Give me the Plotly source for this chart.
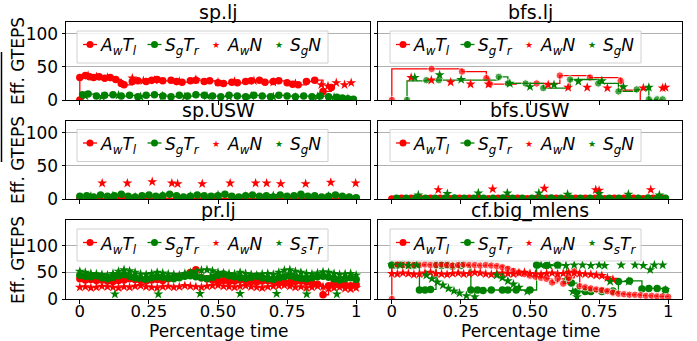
import plotly.graph_objects as go
from plotly.subplots import make_subplots

# ---------------- data ----------------
panel_titles = ["sp.lj", "bfs.lj", "sp.USW", "bfs.USW", "pr.lj", "cf.big_mlens"]
x_ticks = [0, 0.25, 0.5, 0.75, 1]
x_tick_text = ["0", "0.25", "0.50", "0.75", "1"]
y_ticks = [0, 50, 100]

# sp.lj
splj_awtl_x = [0.0, 0.0, 0.02, 0.035, 0.05, 0.07, 0.09, 0.11, 0.13, 0.15, 0.16, 0.19, 0.21, 0.24, 0.26, 0.28, 0.3, 0.33, 0.35, 0.37,
               0.4, 0.42, 0.45, 0.47, 0.5, 0.52, 0.55, 0.57, 0.6, 0.62, 0.65, 0.67, 0.7, 0.72, 0.75, 0.77, 0.79, 0.82, 0.85, 0.88, 0.91]
splj_awtl_y = [0, 34, 37, 35, 34, 35, 33, 34, 31, 25, 23, 28, 29, 28, 30, 31, 29, 30, 28, 27,
               29, 30, 28, 29, 26, 25, 27, 26, 28, 29, 30, 27, 28, 29, 26, 24, 23, 28, 30, 13, 19]
splj_sgtr_x = [0.01, 0.03, 0.06, 0.09, 0.12, 0.15, 0.18, 0.21, 0.24, 0.27, 0.3, 0.33, 0.36, 0.39, 0.42, 0.45, 0.48, 0.51,
               0.54, 0.57, 0.6, 0.63, 0.66, 0.69, 0.72, 0.75, 0.78, 0.81, 0.84, 0.87, 0.9, 0.93, 0.95, 0.97, 0.99]
splj_sgtr_y = [8, 9, 6, 7, 8, 6, 7, 5, 7, 8, 6, 5, 7, 6, 8, 7, 6, 5, 7, 6, 5, 7, 6, 5, 7, 6, 5, 6, 5, 6, 5, 4, 3, 2, 1]
splj_awn_x = [0.03, 0.06, 0.1, 0.19, 0.23, 0.27, 0.36, 0.42, 0.5, 0.56, 0.63, 0.7, 0.78, 0.874, 0.898, 0.928, 0.958, 0.982]
splj_awn_y = [37, 35, 34, 33, 29, 30, 28, 31, 27, 28, 29, 27, 25, 23, 21, 26, 23, 26]
splj_sgn_x = [0.02, 0.08, 0.14, 0.22, 0.3, 0.38, 0.46, 0.54, 0.62, 0.7, 0.78, 0.86, 0.92, 0.97]
splj_sgn_y = [6, 5, 7, 5, 6, 5, 6, 5, 6, 5, 4, 5, 4, 2]

# bfs.lj
bfslj_awtl_x = [0.0, 0.0, 0.144, 0.254, 0.342, 0.354, 0.45, 0.524, 0.608, 0.717, 0.828, 0.83, 0.899]
bfslj_awtl_y = [0, 47, 47, 43, 33, 24, 25, 25, 37, 34, 29, 15, 0]
bfslj_sgtr_x = [0.055, 0.055, 0.125, 0.17, 0.387, 0.42, 0.484, 0.548, 0.645, 0.747, 0.82, 0.886, 0.93, 0.96, 0.98]
bfslj_sgtr_y = [0, 29, 30, 30, 35, 25, 25, 18, 31, 25, 13, 16, 1, 1, 1]
bfslj_awn_x = [0.07, 0.143, 0.213, 0.285, 0.35, 0.566, 0.638, 0.707, 0.78, 0.91, 0.98, 0.99]
bfslj_awn_y = [34, 30, 27, 24, 24, 23, 19, 19, 18, 18, 18, 19]
bfslj_sgn_x = [0.083, 0.173, 0.251, 0.427, 0.5, 0.587, 0.675, 0.76, 0.838, 0.93]
bfslj_sgn_y = [34, 38, 31, 25, 20, 23, 28, 29, 20, 19]

# sp.USW
spusw_awtl_x = [0.0, 0.05, 0.1, 0.15, 0.2, 0.25, 0.3, 0.35, 0.4, 0.45, 0.5, 0.55, 0.6, 0.65, 0.7, 0.75, 0.8, 0.85, 0.9, 0.95, 1.0]
spusw_awtl_y = [0, 1, 1, 1, 1, 1, 1, 1, 1, 1, 1, 1, 1, 1, 1, 1, 1, 1, 1, 1, 1]
spusw_sgtr_x = [0.0, 0.025, 0.05, 0.075, 0.1, 0.125, 0.15, 0.175, 0.2, 0.225, 0.25, 0.275, 0.3, 0.325, 0.35, 0.375, 0.4,
                0.425, 0.45, 0.475, 0.5, 0.525, 0.55, 0.575, 0.6, 0.625, 0.65, 0.675, 0.7, 0.725, 0.75, 0.775, 0.8,
                0.825, 0.85, 0.875, 0.9, 0.925, 0.95, 0.975, 1.0]
spusw_sgtr_y = [4, 5, 3, 6, 4, 5, 7, 4, 3, 5, 6, 4, 5, 7, 5, 3, 4, 6, 5, 4, 5, 7, 4, 3, 5, 6, 4, 5, 3, 6, 4, 5, 7, 4, 5, 3, 4, 6, 4, 3, 2]
spusw_awn_x = [0.081, 0.172, 0.262, 0.333, 0.354, 0.443, 0.544, 0.636, 0.676, 0.727, 0.817, 0.908, 0.998]
spusw_awn_y = [24, 24, 26, 24, 23, 23, 24, 24, 24, 23, 23, 25, 24]
spusw_sgn_x = [0.04, 0.12, 0.2, 0.3, 0.4, 0.5, 0.6, 0.7, 0.8, 0.9]
spusw_sgn_y = [4, 5, 3, 5, 4, 6, 4, 5, 3, 4]

# bfs.USW
bfsusw_awtl_x = [0.0, 0.035, 0.07, 0.105, 0.14, 0.175, 0.21, 0.245, 0.28, 0.315, 0.35, 0.385, 0.42, 0.455, 0.49,
                 0.525, 0.56, 0.595, 0.63, 0.665, 0.7, 0.735, 0.77, 0.805, 0.84, 0.875, 0.91, 0.945, 0.98]
bfsusw_awtl_y = [0, 1, 1, 0.5, 1, 1, 0.5, 1, 1, 1, 0.5, 1, 1, 1, 0.5, 1, 1, 1, 0.5, 1, 1, 1, 0.5, 1, 1, 1, 0.5, 1, 1]
bfsusw_sgtr_x = [0.017, 0.052, 0.087, 0.122, 0.157, 0.192, 0.227, 0.262, 0.297, 0.332, 0.367, 0.402, 0.437, 0.472,
                 0.507, 0.542, 0.577, 0.612, 0.647, 0.682, 0.717, 0.752, 0.787, 0.822, 0.857, 0.892, 0.927, 0.962, 0.99]
bfsusw_sgtr_y = [1, 1, 1.5, 1, 1, 1, 1.5, 1, 1, 1, 1, 1.5, 1, 1, 1, 1, 1.5, 1, 1, 1, 1, 1.5, 1, 1, 1, 1, 1.5, 1, 1]
bfsusw_awn_x = [0.168, 0.365, 0.552, 0.738, 0.75, 0.937]
bfsusw_awn_y = [14, 15, 16, 14, 13, 14]
bfsusw_sgn_x = [0.096, 0.201, 0.313, 0.418, 0.532, 0.636, 0.75, 0.856, 0.968]
bfsusw_sgn_y = [6, 8, 9, 9, 9, 7, 8, 7, 6]

# pr.lj
prlj_x = [0.0, 0.02, 0.04, 0.06, 0.08, 0.1, 0.12, 0.14, 0.16, 0.18, 0.2, 0.22, 0.24, 0.26, 0.28, 0.3, 0.32, 0.34, 0.36,
          0.38, 0.4, 0.42, 0.44, 0.46, 0.48, 0.5, 0.52, 0.54, 0.56, 0.58, 0.6, 0.62, 0.64, 0.66, 0.68, 0.7, 0.72, 0.74,
          0.76, 0.78, 0.8, 0.82, 0.84, 0.86, 0.88, 0.9, 0.92, 0.94, 0.96, 0.98, 1.0]
prlj_awtl_y = [38, 36, 37, 35, 36, 34, 33, 35, 36, 38, 37, 35, 34, 36, 37, 35, 38, 40, 42, 45, 50, 55, 40, 38, 36, 34,
               35, 33, 34, 36, 35, 33, 32, 34, 35, 33, 32, 30, 31, 33, 34, 32, 30, 28, 8, 25, 30, 28, 26, 25, 27]
prlj_sgtr_y = [45, 43, 42, 44, 40, 38, 41, 44, 46, 43, 40, 38, 37, 40, 42, 41, 39, 38, 40, 43, 44, 42, 40, 38, 41, 45,
               47, 44, 42, 40, 39, 41, 43, 40, 38, 37, 40, 42, 44, 41, 39, 38, 40, 42, 43, 41, 38, 36, 38, 40, 37]
prlj_awn_y = [22, 23, 21, 22, 24, 23, 22, 21, 23, 22, 24, 25, 23, 22, 21, 23, 24, 22, 23, 25, 24, 23, 22, 24, 25, 26,
              24, 23, 22, 24, 25, 23, 22, 21, 23, 24, 25, 26, 24, 22, 23, 21, 22, 24, 23, 20, 21, 22, 20, 19, 21]
prlj_sstr_y = [52, 50, 48, 47, 46, 45, 48, 52, 55, 53, 50, 47, 46, 48, 50, 49, 47, 46, 45, 48, 50, 52, 54, 55, 53, 50,
               49, 48, 47, 50, 48, 46, 45, 47, 48, 46, 50, 54, 55, 52, 50, 48, 47, 49, 51, 50, 48, 46, 47, 48, 45]
prlj_sstr_low_x = [0.127, 0.284, 0.435, 0.58, 0.712, 0.821, 0.93]
prlj_sstr_low_y = [9, 9, 10, 10, 10, 9, 9]

# cf.big_mlens
cf_awtl_x = [0.0, 0.0, 0.02, 0.04, 0.06, 0.08, 0.1, 0.12, 0.14, 0.16, 0.18, 0.2, 0.22, 0.24, 0.26, 0.28, 0.3, 0.32, 0.34,
             0.36, 0.38, 0.4, 0.42, 0.44, 0.46, 0.48, 0.5, 0.52, 0.54, 0.56, 0.58, 0.6, 0.62, 0.64, 0.66, 0.68, 0.7, 0.72,
             0.74, 0.76, 0.78, 0.8, 0.82, 0.84, 0.86, 0.88, 0.9, 0.92, 0.94, 0.96, 0.98, 1.0]
cf_awtl_y = [0, 64, 65, 64, 65, 64, 64, 65, 64, 64, 65, 64, 63, 64, 65, 64, 64, 63, 64, 63, 62, 60, 57, 53, 50, 47, 44,
             42, 40, 38, 31, 38, 29, 40, 52, 24, 22, 20, 18, 17, 15, 12, 10, 9, 8, 8, 7, 6, 6, 5, 5, 4]
cf_sgtr_x = [0.0, 0.02, 0.04, 0.06, 0.08, 0.1, 0.12, 0.14, 0.16, 0.18, 0.2, 0.22, 0.25, 0.286, 0.31, 0.33, 0.36, 0.4,
             0.42, 0.45, 0.5, 0.524, 0.56, 0.6, 0.633, 0.65, 0.67, 0.7, 0.72, 0.76, 0.8, 0.82, 0.86, 0.905, 0.93, 0.96, 0.99]
cf_sgtr_y = [64, 64, 65, 64, 63, 17, 17, 18, 64, 63, 64, 62, 63, 17, 17, 16, 17, 17, 17, 17, 17, 64, 63, 64, 35, 30,
             14, 14, 14, 14, 15, 33, 34, 19, 20, 20, 17]
cf_awn_x = [0.0, 0.02, 0.04, 0.06, 0.08, 0.1, 0.12, 0.14, 0.16, 0.18, 0.2, 0.22, 0.24, 0.26, 0.28, 0.3, 0.32, 0.34, 0.36,
            0.38, 0.4, 0.42, 0.44, 0.46, 0.48, 0.5, 0.52, 0.54, 0.56, 0.58, 0.6, 0.62, 0.64, 0.66, 0.68, 0.7, 0.72, 0.74,
            0.76, 0.78, 0.8]
cf_awn_y = [48, 47, 49, 48, 46, 47, 49, 50, 48, 47, 46, 48, 49, 47, 48, 50, 49, 47, 46, 48, 49, 48, 47, 49, 50, 48, 47,
            46, 48, 49, 47, 48, 50, 49, 48, 47, 46, 45, 44, 40, 37]
cf_sstr_x = [0.0, 0.03, 0.06, 0.09, 0.125, 0.145, 0.165, 0.185, 0.205, 0.225, 0.245, 0.27, 0.3, 0.38, 0.4, 0.42, 0.44,
             0.46, 0.49, 0.54, 0.57, 0.6, 0.63, 0.66, 0.655, 0.67, 0.69, 0.72, 0.75, 0.77, 0.79, 0.83, 0.857, 0.88, 0.91,
             0.935, 0.95, 0.98, 0.99]
cf_sstr_y = [64, 64, 63, 64, 45, 38, 32, 26, 20, 15, 11, 6, 4, 45, 40, 34, 28, 22, 14, 64, 63, 64, 63, 64, 14, 4, 64,
             63, 64, 63, 33, 64, 33, 64, 63, 55, 64, 64, 17]

# ---------------- styling ----------------
RED = "#ff0000"
GREEN = "#008000"
FONT = "DejaVu Sans"
N_AWTL = "<i>A<sub>w</sub>T<sub>l</sub></i>"
N_SGTR = "<i>S<sub>g</sub>T<sub>r</sub></i>"
N_AWN = "<i>A<sub>w</sub>N</i>"
N_SGN = "<i>S<sub>g</sub>N</i>"
N_SSTR = "<i>S<sub>s</sub>T<sub>r</sub></i>"
CIRCLE_SIZE = 7.5
STAR_SIZE = 7.5

fig = make_subplots(rows=3, cols=2)


def line_trace(x, y, color, name, sizes=None):
    return go.Scatter(x=x, y=y, mode="lines+markers", name=name, showlegend=False,
                      line=dict(color=color, width=1.3, shape="hv"),
                      marker=dict(symbol="circle", size=sizes if sizes is not None else CIRCLE_SIZE, color=color))


def star_trace(x, y, color, name):
    return go.Scatter(x=x, y=y, mode="markers", name=name, showlegend=False,
                      marker=dict(symbol="star", size=STAR_SIZE, color=color, line=dict(width=0)))


S = CIRCLE_SIZE
panels = [
    (1, 1, [(splj_awtl_x, splj_awtl_y, "L", RED, N_AWTL, None), (splj_sgtr_x, splj_sgtr_y, "L", GREEN, N_SGTR, None),
            (splj_awn_x, splj_awn_y, "S", RED, N_AWN, None), (splj_sgn_x, splj_sgn_y, "S", GREEN, N_SGN, None)],
     [("L", RED, N_AWTL), ("L", GREEN, N_SGTR), ("S", RED, N_AWN), ("S", GREEN, N_SGN)]),
    (1, 2, [(bfslj_awtl_x, bfslj_awtl_y, "L", RED, N_AWTL, [S, 0, S, S, S, S, 0, S, S, S, S, 0, 0]),
            (bfslj_sgtr_x, bfslj_sgtr_y, "L", GREEN, N_SGTR, [S, 0] + [S] * 13),
            (bfslj_awn_x, bfslj_awn_y, "S", RED, N_AWN, None), (bfslj_sgn_x, bfslj_sgn_y, "S", GREEN, N_SGN, None)],
     [("L", RED, N_AWTL), ("L", GREEN, N_SGTR), ("S", RED, N_AWN), ("S", GREEN, N_SGN)]),
    (2, 1, [(spusw_awtl_x, spusw_awtl_y, "L", RED, N_AWTL, None), (spusw_sgtr_x, spusw_sgtr_y, "L", GREEN, N_SGTR, None),
            (spusw_awn_x, spusw_awn_y, "S", RED, N_AWN, None), (spusw_sgn_x, spusw_sgn_y, "S", GREEN, N_SGN, None)],
     [("L", RED, N_AWTL), ("L", GREEN, N_SGTR), ("S", RED, N_AWN), ("S", GREEN, N_SGN)]),
    (2, 2, [(bfsusw_awtl_x, bfsusw_awtl_y, "L", RED, N_AWTL, None), (bfsusw_sgtr_x, bfsusw_sgtr_y, "L", GREEN, N_SGTR, None),
            (bfsusw_awn_x, bfsusw_awn_y, "S", RED, N_AWN, None), (bfsusw_sgn_x, bfsusw_sgn_y, "S", GREEN, N_SGN, None)],
     [("L", RED, N_AWTL), ("L", GREEN, N_SGTR), ("S", RED, N_AWN), ("S", GREEN, N_SGN)]),
    (3, 1, [(prlj_x, prlj_awtl_y, "L", RED, N_AWTL, None), (prlj_x, prlj_sgtr_y, "L", GREEN, N_SGTR, None),
            (prlj_x, prlj_awn_y, "S", RED, N_AWN, None),
            (prlj_x + prlj_sstr_low_x, prlj_sstr_y + prlj_sstr_low_y, "S", GREEN, N_SSTR, None)],
     [("L", RED, N_AWTL), ("L", GREEN, N_SGTR), ("S", RED, N_AWN), ("S", GREEN, N_SSTR)]),
    (3, 2, [(cf_sgtr_x, cf_sgtr_y, "L", GREEN, N_SGTR, None),
            (cf_awtl_x, cf_awtl_y, "L", RED, N_AWTL, [S, 0] + [S] * 50),
            (cf_awn_x, cf_awn_y, "S", RED, N_AWN, None), (cf_sstr_x, cf_sstr_y, "S", GREEN, N_SSTR, None)],
     [("L", RED, N_AWTL), ("L", GREEN, N_SGTR), ("S", RED, N_AWN), ("S", GREEN, N_SSTR)]),
]

for (r, c, series, _) in panels:
    for (x, y, kind, color, name, sizes) in series:
        tr = line_trace(x, y, color, name, sizes) if kind == "L" else star_trace(x, y, color, name)
        fig.add_trace(tr, row=r, col=c)

# ---------------- layout ----------------
W, H = 697, 341
ML, MR, MT, MB = 66, 15, 22, 42
PW, PH = W - ML - MR, H - MT - MB


def px_x(p):
    return (p - ML) / PW


def px_y(p):
    return (H - MB - p) / PH


col_dom = [[px_x(66), px_x(370)], [px_x(378), px_x(682)]]
row_dom = [[px_y(100), px_y(22)], [px_y(199), px_y(121)], [px_y(299), px_y(220)]]
row_yrange = [[0, 118], [0, 118], [0, 149]]

axis_common = dict(showline=True, linecolor="black", linewidth=1, mirror=True, ticks="outside", ticklen=3.5,
                   tickcolor="black", zeroline=False)

for r in range(3):
    for c in range(2):
        idx = r * 2 + c + 1
        xa = "xaxis" if idx == 1 else f"xaxis{idx}"
        ya = "yaxis" if idx == 1 else f"yaxis{idx}"
        fig.layout[xa].update(domain=col_dom[c], range=[-0.05, 1.05], tickvals=x_ticks, ticktext=x_tick_text,
                              showticklabels=(r == 2), showgrid=False, ticklabelstandoff=-6,
                              tickfont=dict(family=FONT, size=16.5, color="black"), **axis_common)
        fig.layout[ya].update(domain=row_dom[r], range=row_yrange[r], tickvals=y_ticks,
                              showticklabels=(c == 0), showgrid=True, gridcolor="#b0b0b0", gridwidth=0.8,
                              tickfont=dict(family=FONT, size=17, color="black"), **axis_common)

annotations = []
shapes = []

# legends drawn as boxed entries inside each panel
legend_tops = [31, 31, 129.5, 129.5, 229, 229]
legend_lefts = [77, 390, 77, 390, 77, 390]
LEG_W, LEG_H = 251, 32
sym_centers = [13, 77.5, 139, 202]
text_starts = [21, 86, 148, 211]
for i, (_, _, _, entries) in enumerate(panels):
    L, T = legend_lefts[i], legend_tops[i]
    shapes.append(dict(type="rect", xref="paper", yref="paper", x0=px_x(L), x1=px_x(L + LEG_W),
                       y0=px_y(T + LEG_H), y1=px_y(T), fillcolor="rgba(255,255,255,0.8)",
                       line=dict(color="#d0d0d0", width=1), layer="above"))
    for j, (kind, color, label) in enumerate(entries):
        cx = L + sym_centers[j]
        sy = T + 13.5
        if kind == "L":
            shapes.append(dict(type="line", xref="paper", yref="paper", x0=px_x(cx - 7), x1=px_x(cx + 7),
                               y0=px_y(sy), y1=px_y(sy), line=dict(color=color, width=1.3), layer="above"))
            shapes.append(dict(type="circle", xref="paper", yref="paper", x0=px_x(cx - 3.5), x1=px_x(cx + 3.5),
                               y0=px_y(sy + 3.5), y1=px_y(sy - 3.5), fillcolor=color, line=dict(width=0),
                               layer="above"))
        else:
            annotations.append(dict(text="★", x=px_x(cx), y=px_y(sy + 0.5), xref="paper", yref="paper",
                                    showarrow=False, xanchor="center", yanchor="middle",
                                    font=dict(family=FONT, size=9, color=color)))
        annotations.append(dict(text=label, x=px_x(L + text_starts[j]), y=px_y(T + 16), xref="paper",
                                yref="paper", showarrow=False, xanchor="left", yanchor="middle",
                                font=dict(family=FONT, size=17, color="black")))

title_pos = [(218, 12), (530, 12), (218, 110), (530, 110), (218, 210), (530, 210)]
for t, (cx, cy) in zip(panel_titles, title_pos):
    annotations.append(dict(text=t, x=px_x(cx), y=px_y(cy), xref="paper", yref="paper", showarrow=False,
                            xanchor="center", yanchor="middle", font=dict(family=FONT, size=19, color="black")))
for cy in [61, 160, 260]:
    annotations.append(dict(text="Eff. GTEPS", x=px_x(18), y=px_y(cy), xref="paper", yref="paper", showarrow=False,
                            textangle=-90, xanchor="center", yanchor="middle",
                            font=dict(family=FONT, size=17, color="black")))
for cx in [218, 530]:
    annotations.append(dict(text="Percentage time", x=px_x(cx), y=px_y(330.5), xref="paper", yref="paper",
                            showarrow=False, xanchor="center", yanchor="middle",
                            font=dict(family=FONT, size=17, color="black")))

shapes.append(dict(type="line", xref="paper", yref="paper", x0=px_x(1.5), x1=px_x(1.5),
                   y0=px_y(52), y1=px_y(162), line=dict(color="black", width=1.5)))

fig.update_layout(width=W, height=H, margin=dict(l=ML, r=MR, t=MT, b=MB), plot_bgcolor="white",
                  paper_bgcolor="white", annotations=annotations, shapes=shapes, showlegend=False)

fig.write_html("out.html")
